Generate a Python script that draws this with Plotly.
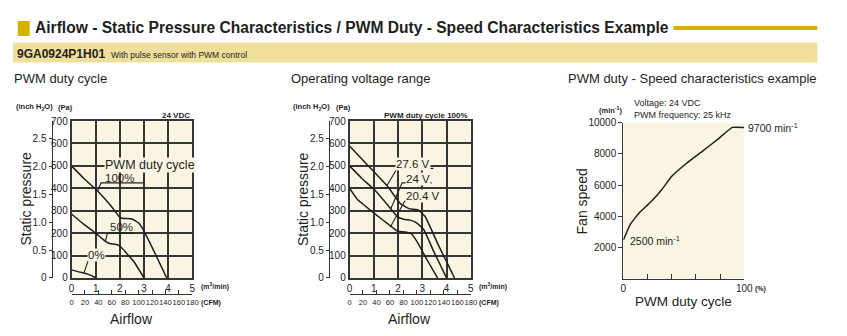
import numpy as np
import plotly.graph_objects as go

W, H = 847, 336

# ---------------- data ----------------
# Panel 1: PWM duty cycle (24 VDC); airflow m3/min vs static pressure Pa
flow_pwm100 = [0, 0.5, 1.08, 1.62, 1.97, 2.1, 2.5, 2.78, 3.0, 3.5, 3.94]
pa_pwm100 = [500, 445, 388, 323, 274, 266, 263, 245, 209, 100, 0]
flow_pwm50 = [0, 0.5, 1.0, 1.3, 1.5, 1.7, 1.9, 2.05, 2.3, 2.6, 3.0]
pa_pwm50 = [285, 240, 200, 172, 157, 151, 148, 137, 108, 70, 0]
flow_pwm0 = [0, 0.3, 0.5, 0.7, 0.85, 1.0]
pa_pwm0 = [36, 27, 22, 16, 9, 0]

# Panel 2: operating voltage range (PWM duty 100 %)
flow_v276 = [0, 0.75, 1.56, 2.1, 2.45, 2.85, 3.12, 3.67, 4.33]
pa_v276 = [589, 503, 410, 331, 309, 302, 274, 145, 0]
flow_v24 = [0, 0.5, 1.08, 1.7, 1.97, 2.24, 2.5, 2.78, 3.06, 3.5, 4.0]
pa_v24 = [500, 445, 388, 309, 274, 262, 258, 245, 216, 112, 0]
flow_v204 = [0, 0.31, 1.02, 1.7, 1.97, 2.3, 2.57, 2.85, 3.2, 3.63]
pa_v204 = [400, 352, 288, 231, 209, 205, 195, 150, 80, 0]

# Panel 3: PWM duty (%) vs speed (min-1)
duty = [0, 3, 6, 10, 14, 20, 25, 32, 40, 52, 66, 79, 90, 100]
speed = [2500, 3050, 3530, 3950, 4310, 4750, 5130, 5750, 6570, 7390, 8210, 9000, 9700, 9700]

# axis tick labels
pa_ticks = [0, 100, 200, 300, 400, 500, 600, 700]
inch_ticks = [0, 0.5, 1.0, 1.5, 2.0, 2.5]
inch_labels = ["0", "0.5", "1.0", "1.5", "2.0", "2.5"]
flow_ticks = [0, 1, 2, 3, 4, 5]
cfm_ticks = [0, 20, 40, 60, 80, 100, 120, 140, 160, 180]
duty_major = [0, 100]
duty_minor = [20, 40, 60, 80]
speed_ticks = [2000, 4000, 6000, 8000, 10000]
speed_labels = ["2000", "4000", "6000", "8000", "10000"]
PA_PER_INCH = 249.089

# ---------------- styling ----------------
BG = "#faf5e2"
GRID = "#353535"
INK = "#1e1e1e"
GOLD = "#d8b000"
BAND = "#efdf9b"
FONT = "Liberation Sans, Arial, sans-serif"


def px(x):
    return x / W


def py(y):
    return 1 - y / H


fig = go.Figure()
curve_line = dict(color=INK, width=1.5, shape="spline", smoothing=0.3)


def add_curve(x, y, xa, ya):
    fig.add_trace(go.Scatter(x=x, y=y, xaxis=xa, yaxis=ya, mode="lines",
                             line=curve_line, showlegend=False, hoverinfo="skip"))


add_curve(flow_pwm100, pa_pwm100, "x", "y")
add_curve(flow_pwm50, pa_pwm50, "x", "y")
add_curve(flow_pwm0, pa_pwm0, "x", "y")
add_curve(flow_v276, pa_v276, "x3", "y3")
add_curve(flow_v24, pa_v24, "x3", "y3")
add_curve(flow_v204, pa_v204, "x3", "y3")
add_curve(duty, speed, "x5", "y5")
# empty traces so that the secondary (inch / CFM) axes are drawn
for xa, ya in [("x2", "y2"), ("x4", "y4")]:
    fig.add_trace(go.Scatter(x=[None], y=[None], xaxis=xa, yaxis=ya, mode="lines",
                             showlegend=False, hoverinfo="skip"))

tickfont = dict(family=FONT, size=10, color=INK)
smallfont = dict(family=FONT, size=7.6, color=INK)


def main_x(dom, anchor):
    return dict(domain=dom, anchor=anchor, range=[0, 5], tickvals=flow_ticks,
                showgrid=True, gridcolor=GRID, gridwidth=1.6, zeroline=False,
                showline=True, mirror=True, linecolor=GRID, linewidth=1.6,
                ticks="", tickfont=tickfont, tickangle=0, fixedrange=True)


def main_y(dom, anchor):
    return dict(domain=dom, anchor=anchor, range=[0, 700], tickvals=pa_ticks,
                showgrid=True, gridcolor=GRID, gridwidth=1.6, zeroline=False,
                showline=True, mirror=True, linecolor=GRID, linewidth=1.6,
                ticks="", tickfont=tickfont, fixedrange=True)


def inch_y(over, pos):
    return dict(overlaying=over, anchor="free", position=pos, side="left",
                range=[0, 700 / PA_PER_INCH], tickvals=inch_ticks, ticktext=inch_labels,
                showgrid=False, zeroline=False, showline=True, linecolor=GRID,
                linewidth=1.2, ticks="outside", ticklen=3, tickcolor=GRID,
                tickfont=tickfont, fixedrange=True)


def cfm_x(over):
    return dict(overlaying=over, anchor="free", position=py(299), side="bottom",
                range=[0, 180], tickvals=cfm_ticks, showgrid=False, zeroline=False,
                showline=True, linecolor=GRID, linewidth=1.2, ticks="inside",
                ticklen=4, tickcolor=GRID, tickfont=smallfont, tickangle=0,
                fixedrange=True)


ydom = [py(282), py(119.3)]
layout_axes = dict(
    xaxis=main_x([px(69.5), px(192)], "y"),
    yaxis=main_y(ydom, "x"),
    yaxis2=inch_y("y", px(49.3)),
    xaxis2=cfm_x("x"),
    xaxis3=main_x([px(351.5), px(474.5)], "y3"),
    yaxis3=main_y(ydom, "x3"),
    yaxis4=inch_y("y3", px(330.7)),
    xaxis4=cfm_x("x3"),
    xaxis5=dict(domain=[px(629.3), px(752)], anchor="y5", range=[0, 100],
                tickvals=duty_major, showgrid=False,
                zeroline=False, showline=True, linecolor=GRID, linewidth=1.3,
                ticks="inside", ticklen=5, tickcolor=GRID, tickfont=tickfont,
                minor=dict(tickmode="array", tickvals=duty_minor, ticks="inside",
                           ticklen=5, tickcolor=GRID, showgrid=False),
                tickangle=0, fixedrange=True),
    yaxis5=dict(domain=[py(283.3), py(121)], anchor="x5", range=[0, 10000],
                tickvals=speed_ticks, ticktext=speed_labels, showgrid=False,
                zeroline=False, showline=True, linecolor=GRID, linewidth=1.3,
                ticks="outside", ticklen=4, tickcolor=GRID, tickfont=tickfont,
                fixedrange=True),
)

ann = []
shapes = []


def text(x, y, s, size=10, anchor="left", yanchor="middle", family=FONT,
         angle=0, xref="paper", yref="paper", bg=None, bold=False, **kw):
    if bold:
        s = "<b>" + s + "</b>"
    d = dict(x=x, y=y, text=s, xref=xref, yref=yref, xanchor=anchor,
             yanchor=yanchor, showarrow=False, textangle=angle,
             font=dict(family=family, size=size, color=INK), borderpad=0)
    if bg:
        d["bgcolor"] = bg
    d.update(kw)
    ann.append(d)


# ---- header ----
shapes.append(dict(type="rect", xref="paper", yref="paper", x0=px(15), x1=px(27),
                   y0=py(31), y1=py(15.5), fillcolor=GOLD, line_width=0, layer="below"))
shapes.append(dict(type="line", xref="paper", yref="paper", x0=px(680), x1=px(826),
                   y0=py(22.7), y1=py(22.7), line=dict(color=GOLD, width=4)))
shapes.append(dict(type="rect", xref="paper", yref="paper", x0=px(10), x1=px(826),
                   y0=py(58.5), y1=py(38), fillcolor=BAND, line_width=0, layer="below"))
text(px(31), py(22.5),
     "Airflow - Static Pressure Characteristics / PWM Duty - Speed Characteristics Example",
     size=15.6, bold=True)
text(px(13), py(49.5), "9GA0924P1H01", size=12, bold=True)
text(px(109), py(51), "With pulse sensor with PWM control", size=8.5)

# ---- panel titles ----
text(px(10), py(75), "PWM duty cycle", size=13)
text(px(291), py(75), "Operating voltage range", size=13)
text(px(572), py(75), "PWM duty - Speed characteristics example", size=13)

# ---- panel 1 & 2 decorations ----
for xoff, note in [(0, "24 VDC"), (281.5, "PWM duty cycle 100%")]:
    text(px(12 + xoff), py(105), "(inch H<sub>2</sub>O)", size=7.5, bold=True)
    text(px(63.5 + xoff), py(105), "(Pa)", size=7.5, bold=True, anchor="center")
    text(px(191 + xoff), py(113.5), note, size=8, bold=True, anchor="right")
    text(px(200 + xoff), py(291), "(m<sup>3</sup>/min)", size=7, bold=True)
    text(px(200 + xoff), py(307.5), "(CFM)", size=7, bold=True)
    text(px(23 + xoff), py(200), "Static pressure", size=14, anchor="center", angle=-90)
    text(px(130.5 + xoff), py(325), "Airflow", size=14, anchor="center")


def label(xa, ya, s, tx, ty, u0, u1, uy, tip_x, cx, cy, bg=None, size=11.5):
    """text at (tx,ty); underline from u0..u1 at uy; leader to curve at tip_x"""
    tip_y = float(np.interp(tip_x, cx, cy))
    text(tx, ty, s, size=size, anchor="center", xref=xa, yref=ya, bg=bg)
    shapes.append(dict(type="path", xref=xa, yref=ya,
                       path=f"M {tip_x},{tip_y} L {u0},{uy} L {u1},{uy}",
                       line=dict(color=INK, width=1.1)))


text(1.33, 503, "PWM duty cycle", size=12.5, xref="x", yref="y", bg=BG)
label("x", "y", "100%", 1.97, 447, 1.22, 3.0, 424, 1.08, flow_pwm100, pa_pwm100)
label("x", "y", "50%", 2.06, 225, 1.49, 2.6, 200, 1.40, flow_pwm50, pa_pwm50)
label("x", "y", "0%", 1.03, 102, 0.7, 1.36, 80, 0.51, flow_pwm0, pa_pwm0, bg=BG)

label("x3", "y3", "27.6 V", 2.63, 509, 1.97, 3.46, 489, 1.54, flow_v276, pa_v276, bg=BG)
label("x3", "y3", "24 V", 2.83, 443, 2.17, 3.39, 424, 1.70, flow_v24, pa_v24, bg=BG)
label("x3", "y3", "20.4 V", 3.04, 366, 2.27, 3.73, 342, 1.70, flow_v204, pa_v204, bg=BG)

# ---- panel 3 decorations ----
text(px(604), py(108), "(min<sup>-1</sup>)", size=7.5, bold=True)
text(px(639), py(101), "Voltage: 24 VDC", size=9)
text(px(639), py(113), "PWM frequency: 25 kHz", size=9)
text(px(587), py(203), "Fan speed", size=14, anchor="center", angle=-90)
text(px(690), py(306), "PWM duty cycle", size=13.5, anchor="center")
text(px(762), py(293), "(%)", size=7, bold=True)
text(100, speed[-1], "9700 min<sup>-1</sup>", size=10.5, xref="x5", yref="y5",
     xshift=3)
text(4.5, speed[0], "2500 min<sup>-1</sup>", size=10.5, xref="x5", yref="y5")

fig.update_layout(
    width=W, height=H, margin=dict(l=0, r=0, t=0, b=0, pad=0),
    paper_bgcolor="white", plot_bgcolor=BG, showlegend=False,
    font=dict(family=FONT, color=INK),
    annotations=ann, shapes=shapes, **layout_axes,
)

fig.write_html("out.html", config={"displayModeBar": False})
